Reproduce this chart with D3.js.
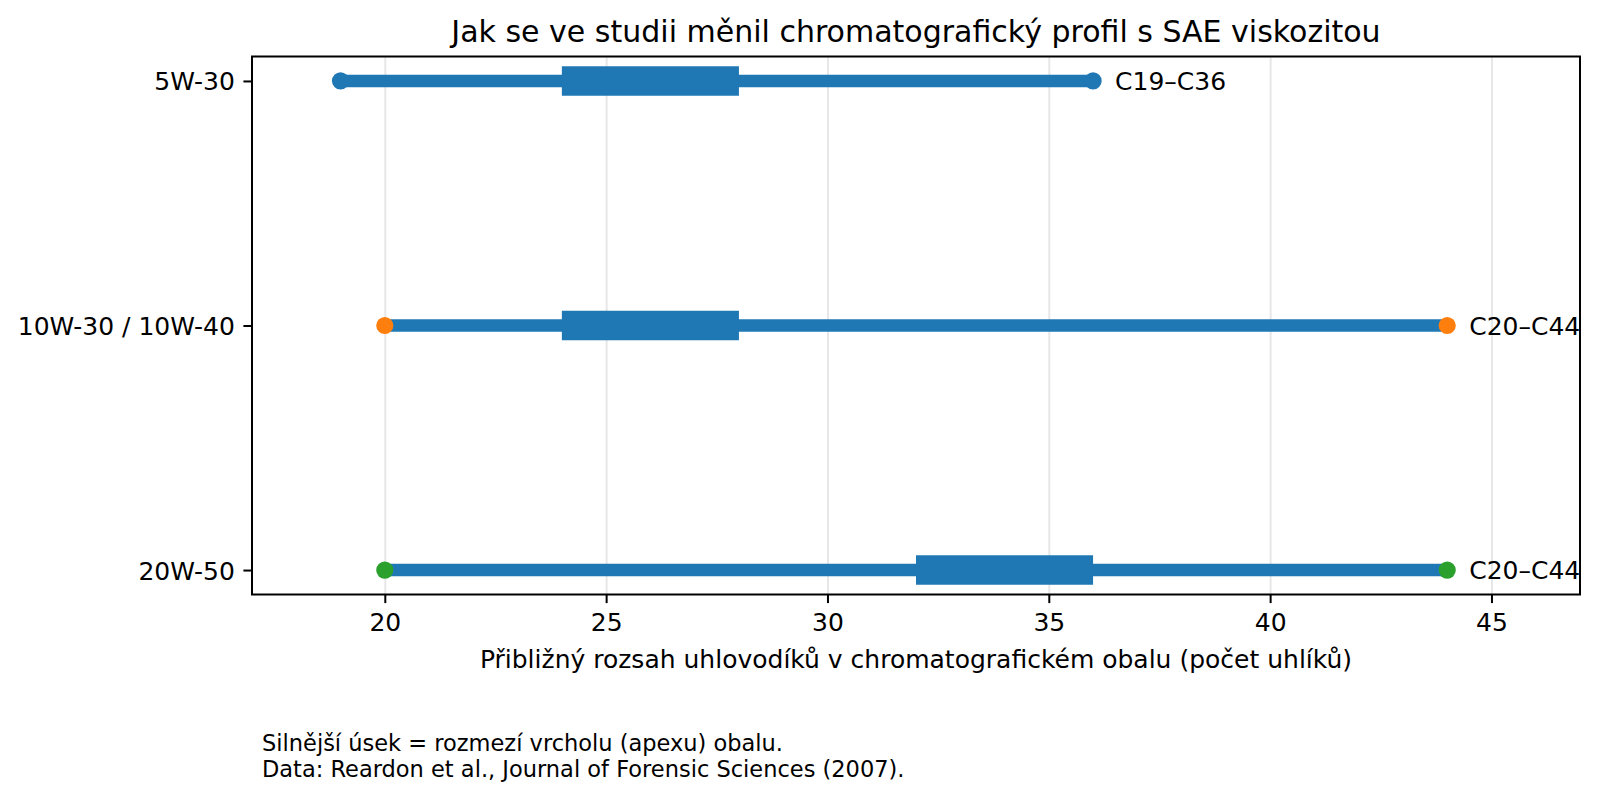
<!DOCTYPE html>
<html>
<head>
<meta charset="utf-8">
<script src="https://cdn.jsdelivr.net/npm/d3@7.9.0/dist/d3.min.js"></script>
<style>
  body { margin: 0; background: #fff; }
  svg { font-family: "DejaVu Sans", sans-serif; }
</style>
</head>
<body>
<div id="chart"></div>
<script>
// data
const grades = ['5W-30', '10W-30 / 10W-40', '20W-50'];
const rangeStart = [19, 20, 20];
const rangeEnd = [36, 44, 44];
const apexStart = [24, 24, 32];
const apexEnd = [28, 28, 36];
const rangeLabels = ['C19–C36', 'C20–C44', 'C20–C44'];
const xTicks = [20, 25, 30, 35, 40, 45];

const palette = ['#1f77b4', '#ff7f0e', '#2ca02c'];

const width = 1598;
const height = 800;
const margin = { top: 56.5, right: 18, bottom: 205.5, left: 252 };

const rows = grades.map((g, i) => ({
  grade: g,
  start: rangeStart[i],
  end: rangeEnd[i],
  apex0: apexStart[i],
  apex1: apexEnd[i],
  label: rangeLabels[i],
  i
}));

const svg = d3.select('#chart')
  .append('svg')
  .attr('width', width)
  .attr('height', height);

const xScale = d3.scaleLinear()
  .domain([17, 47])
  .range([margin.left, width - margin.right]);

const yScale = d3.scaleLinear()
  .domain([-0.1, 2.1])
  .range([margin.top, height - margin.bottom]);

const plotBottom = height - margin.bottom;
const tickLen = 8.6;
const fs = 25;

// gridlines
svg.append('g')
  .attr('class', 'gridlines')
  .attr('transform', `translate(0, ${plotBottom})`)
  .call(d3.axisBottom(xScale).tickValues(xTicks).tickFormat('').tickSize(-(plotBottom - margin.top)))
  .call((g) => g.select('.domain').remove())
  .call((g) => g.selectAll('line').attr('stroke', '#e7e7e7').attr('stroke-width', 2));

// full range lines
svg.append('g')
  .selectAll('line')
  .data(rows)
  .join('line')
  .attr('x1', (d) => xScale(d.start))
  .attr('x2', (d) => xScale(d.end))
  .attr('y1', (d) => yScale(d.i))
  .attr('y2', (d) => yScale(d.i))
  .attr('stroke', palette[0])
  .attr('stroke-width', 12.4);

// apex segments
svg.append('g')
  .selectAll('line')
  .data(rows)
  .join('line')
  .attr('x1', (d) => xScale(d.apex0))
  .attr('x2', (d) => xScale(d.apex1))
  .attr('y1', (d) => yScale(d.i))
  .attr('y2', (d) => yScale(d.i))
  .attr('stroke', palette[0])
  .attr('stroke-width', 29.6);

// endpoint markers
const ends = rows.flatMap((d) => [
  { v: d.start, i: d.i },
  { v: d.end, i: d.i }
]);
svg.append('g')
  .selectAll('circle')
  .data(ends)
  .join('circle')
  .attr('cx', (d) => xScale(d.v))
  .attr('cy', (d) => yScale(d.i))
  .attr('r', 8.6)
  .attr('fill', (d) => palette[d.i]);

// range labels
svg.append('g')
  .selectAll('text')
  .data(rows)
  .join('text')
  .attr('x', (d) => xScale(d.end) + 22)
  .attr('y', (d) => yScale(d.i))
  .attr('dy', '0.36em')
  .attr('font-size', fs)
  .attr('fill', '#000')
  .text((d) => d.label);

// frame
svg.append('rect')
  .attr('x', margin.left)
  .attr('y', margin.top)
  .attr('width', width - margin.left - margin.right)
  .attr('height', plotBottom - margin.top)
  .attr('fill', 'none')
  .attr('stroke', '#000')
  .attr('stroke-width', 2);

// axes
const xAxis = svg.append('g')
  .attr('transform', `translate(0, ${plotBottom})`)
  .call(d3.axisBottom(xScale).tickValues(xTicks).tickSize(tickLen).tickPadding(tickLen));

const yAxis = svg.append('g')
  .attr('transform', `translate(${margin.left}, 0)`)
  .call(d3.axisLeft(yScale).tickValues([0, 1, 2]).tickFormat((d) => grades[d]).tickSize(tickLen).tickPadding(tickLen));

[xAxis, yAxis].forEach((ax) => {
  ax.select('.domain').remove();
  ax.selectAll('line').attr('stroke', '#000').attr('stroke-width', 2);
  ax.selectAll('text')
    .attr('font-size', fs)
    .attr('fill', '#000')
    .attr('font-family', '"DejaVu Sans", sans-serif');
});
xAxis.selectAll('text').attr('dy', null).attr('y', 630.5 - plotBottom);
yAxis.selectAll('text').attr('dy', '0.36em');

// title
svg.append('text')
  .attr('x', (margin.left + width - margin.right) / 2)
  .attr('y', 41.5)
  .attr('text-anchor', 'middle')
  .attr('font-size', 30)
  .text('Jak se ve studii měnil chromatografický profil s SAE viskozitou');

// x label
svg.append('text')
  .attr('x', (margin.left + width - margin.right) / 2)
  .attr('y', 668)
  .attr('text-anchor', 'middle')
  .attr('font-size', fs)
  .text('Přibližný rozsah uhlovodíků v chromatografickém obalu (počet uhlíků)');

// footnote
const notes = [
  'Silnější úsek = rozmezí vrcholu (apexu) obalu.',
  'Data: Reardon et al., Journal of Forensic Sciences (2007).'
];
svg.append('g')
  .selectAll('text')
  .data(notes)
  .join('text')
  .attr('x', 262)
  .attr('y', (d, i) => 750.5 + i * 26)
  .attr('font-size', 22.5)
  .text((d) => d);
</script>
</body>
</html>
